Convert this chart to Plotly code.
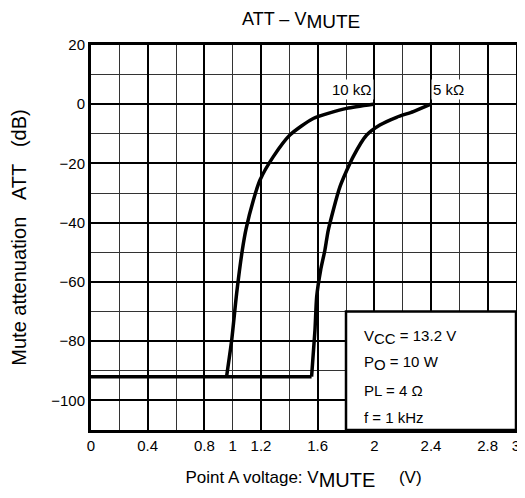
import plotly.graph_objects as go

# --- data ---
flat_x = [0.0, 1.557]
flat_y = [-92, -92]

x_10k = [0.957, 0.993, 1.028, 1.068, 1.095, 1.146, 1.193, 1.287, 1.404, 1.569, 1.805, 1.993]
y_10k = [-92, -79.7, -63.9, -49.3, -42.0, -32.4, -25.6, -17.7, -10.4, -4.8, -1.4, 0.0]

x_5k = [1.557, 1.581, 1.593, 1.621, 1.651, 1.675, 1.757, 1.851, 1.946, 2.039, 2.157, 2.275, 2.399]
y_5k = [-92, -76.3, -65.0, -56.0, -49.3, -42.5, -27.9, -17.7, -10.4, -7.0, -4.4, -2.5, 0.0]

curve_labels = ["10 kΩ", "5 kΩ"]
label_x = [1.84, 2.52]
label_y = [5, 5]

x_tickvals = [0, 0.4, 0.8, 1, 1.2, 1.6, 2, 2.4, 2.8, 3]
x_ticktext = ["0", "0.4", "0.8", "1", "1.2", "1.6", "2", "2.4", "2.8", "3"]
y_tickvals = [20, 0, -20, -40, -60, -80, -100]

cond_lines = ["V<sub><span style='font-size:15px'>CC</span></sub> = 13.2 V",
              "P<sub><span style='font-size:15px'>O</span></sub> = 10 W",
              "PL = 4 Ω",
              "f = 1 kHz"]
cond_y = [-78.5, -87.5, -96.8, -105.9]
cond_x = 1.915
box_x = [1.8, 3.0]
box_y = [-110, -70]

FONT = "Liberation Sans, Arial, sans-serif"
NB = "\u00a0"

fig = go.Figure()
fig.add_trace(go.Scatter(x=flat_x, y=flat_y, mode="lines",
                         line=dict(color="black", width=3.5),
                         showlegend=False, hoverinfo="skip"))
for xs, ys in [(x_10k, y_10k), (x_5k, y_5k)]:
    fig.add_trace(go.Scatter(x=xs, y=ys, mode="lines",
                             line=dict(color="black", width=3.5, shape="spline", smoothing=0.6),
                             showlegend=False, hoverinfo="skip"))
# invisible trace to anchor the major-grid overlay axes
fig.add_trace(go.Scatter(x=[0, 3], y=[-110, 20], xaxis="x2", yaxis="y2", mode="markers",
                         marker=dict(opacity=0), showlegend=False, hoverinfo="skip"))

for t, xv, yv in zip(curve_labels, label_x, label_y):
    fig.add_annotation(x=xv, y=yv, text=t, showarrow=False, bgcolor="white",
                       font=dict(size=15, color="black", family=FONT), borderpad=1)

fig.add_shape(type="rect", x0=box_x[0], x1=box_x[1], y0=box_y[0], y1=box_y[1],
              fillcolor="white", line=dict(color="black", width=2.5), layer="above")
for t, yv in zip(cond_lines, cond_y):
    fig.add_annotation(x=cond_x, y=yv, text=t, showarrow=False, xanchor="left",
                       font=dict(size=15, color="black", family=FONT))

fig.update_layout(
    width=517, height=490,
    margin=dict(l=83, r=9, t=37, b=68),
    paper_bgcolor="white", plot_bgcolor="white",
    font=dict(family=FONT, color="black", size=15),
    title=dict(text="ATT – V<sub><span style='font-size:19px'>MUTE</span></sub>",
               x=0.567, xanchor="center", y=0.979, yanchor="middle",
               font=dict(size=18, family=FONT)),
    xaxis=dict(range=[0, 3], tickvals=x_tickvals, ticktext=x_ticktext, showgrid=False,
               zeroline=False, showline=True, linewidth=3, linecolor="black", mirror=True,
               ticks="", tickfont=dict(size=15),
               minor=dict(tickmode="linear", tick0=0, dtick=0.2, showgrid=True,
                          gridcolor="#333333", gridwidth=1),
               title=dict(text="Point A voltage: V<sub><span style='font-size:20px'>MUTE</span></sub>" + NB * 5 + "(V)",
                          font=dict(size=17), standoff=19),
               automargin=False),
    yaxis=dict(range=[-110, 20], tickvals=y_tickvals, showgrid=False, zeroline=False,
               showline=True, linewidth=3, linecolor="black", mirror=True, ticks="",
               tickfont=dict(size=15),
               minor=dict(tickmode="linear", tick0=0, dtick=10, showgrid=True,
                          gridcolor="#333333", gridwidth=1),
               title=dict(text="Mute attenuation" + NB * 3 + "ATT" + NB * 3 + "(dB)" + NB * 3,
                          font=dict(size=20), standoff=21),
               automargin=False),
    xaxis2=dict(range=[0, 3], overlaying="x", tickmode="linear", tick0=0, dtick=0.4,
                showgrid=True, gridcolor="black", gridwidth=2, showticklabels=False,
                zeroline=False, ticks="", showline=False),
    yaxis2=dict(range=[-110, 20], overlaying="y", tickmode="linear", tick0=0, dtick=20,
                showgrid=True, gridcolor="black", gridwidth=2, showticklabels=False,
                zeroline=False, ticks="", showline=False),
)

fig.write_html("out.html")
